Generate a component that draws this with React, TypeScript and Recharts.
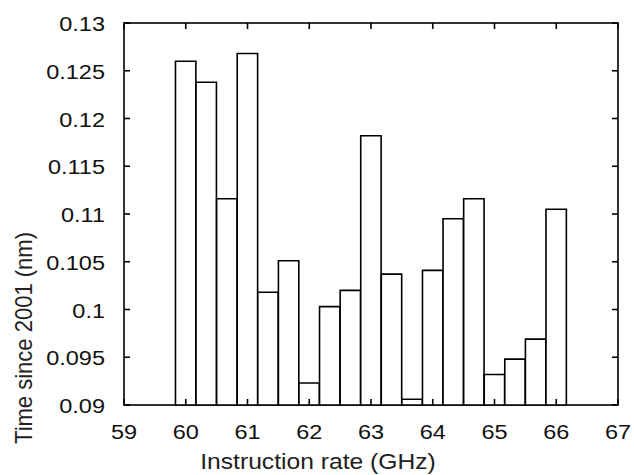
import * as Recharts from "recharts";
import { BarChart, Bar, XAxis, YAxis } from "recharts";

const rates = [
  60, 60.333, 60.667, 61, 61.333, 61.667, 62, 62.333, 62.667, 63, 63.333,
  63.667, 64, 64.333, 64.667, 65, 65.333, 65.667, 66,
];
const times = [
  0.126, 0.1238, 0.1116, 0.1268, 0.1018, 0.1051, 0.0923, 0.1003, 0.102,
  0.1182, 0.1037, 0.0906, 0.1041, 0.1095, 0.1116, 0.0932, 0.0948, 0.0969,
  0.1105,
];
const xTicks = [59, 60, 61, 62, 63, 64, 65, 66, 67];
const yTicks = [0.09, 0.095, 0.1, 0.105, 0.11, 0.115, 0.12, 0.125, 0.13];

const data = rates.map((rate, i) => ({ rate, time: times[i] }));

const W = 634;
const H = 475;
const margin = { top: 23, right: 16, bottom: 0, left: 0 };
const Y_AXIS_W = 124;
const X_AXIS_H = 70;
const PLOT_W = W - Y_AXIS_W - margin.right;
const PLOT_H = H - X_AXIS_H - margin.top;

const FONT = "'Liberation Sans', Arial, sans-serif";
const INK = "#111";
const TICK = 6;
const LW = 1.6;
const STRETCH = 1.12;

const usePlot: () => any =
  (Recharts as any).usePlotArea ?? (Recharts as any).useOffset ?? (() => null);

// box round the plot area
function Frame() {
  const area = usePlot();
  if (!area || area.width == null) return null;
  return (
    <rect
      x={area.x ?? area.left}
      y={area.y ?? area.top}
      width={area.width}
      height={area.height}
      fill="none"
      stroke="#000"
      strokeWidth={LW}
    />
  );
}

// bottom label + inward ticks at the bottom and mirrored at the top
function BottomTick({ x, y, payload }: any) {
  const top = y - PLOT_H;
  return (
    <g>
      <line x1={x} x2={x} y1={y} y2={y - TICK} stroke="#000" strokeWidth={LW} />
      <line x1={x} x2={x} y1={top} y2={top + TICK} stroke="#000" strokeWidth={LW} />
      <text
        transform={`translate(${x},${y + 34}) scale(${STRETCH},1)`}
        textAnchor="middle"
        fontFamily={FONT}
        fontSize={21}
        fill={INK}
      >
        {payload.value}
      </text>
    </g>
  );
}

function LeftTick({ x, y, payload }: any) {
  const right = x + PLOT_W;
  return (
    <g>
      <line x1={x} x2={x + TICK} y1={y} y2={y} stroke="#000" strokeWidth={LW} />
      <line x1={right} x2={right - TICK} y1={y} y2={y} stroke="#000" strokeWidth={LW} />
      <text
        transform={`translate(${x - 19},${y + 8}) scale(${STRETCH},1)`}
        textAnchor="end"
        fontFamily={FONT}
        fontSize={21}
        fill={INK}
      >
        {String(payload.value)}
      </text>
    </g>
  );
}

export default function App() {
  return (
    <div
      style={{
        position: "absolute",
        left: 0,
        top: 0,
        width: W,
        height: H,
        background: "#fff",
        fontFamily: FONT,
        color: "#222",
      }}
    >
      <BarChart width={W} height={H} data={data} margin={margin}>
        <XAxis
          dataKey="rate"
          type="number"
          domain={[xTicks[0], xTicks[xTicks.length - 1]]}
          ticks={xTicks}
          interval={0}
          height={X_AXIS_H}
          tickSize={0}
          tickMargin={0}
          tickLine={false}
          axisLine={false}
          tick={(p: any) => <BottomTick {...p} />}
        />
        <YAxis
          type="number"
          domain={[yTicks[0], yTicks[yTicks.length - 1]]}
          ticks={yTicks}
          interval={0}
          width={Y_AXIS_W}
          tickSize={0}
          tickMargin={0}
          tickLine={false}
          axisLine={false}
          tick={(p: any) => <LeftTick {...p} />}
        />
        <Bar
          dataKey="time"
          barSize={20.4}
          fill="#fff"
          stroke="#000"
          strokeWidth={LW}
          isAnimationActive={false}
        />
        <Frame />
      </BarChart>
      <div
        style={{
          position: "absolute",
          left: 318,
          top: 462,
          transform: `translate(-50%, -50%) scale(${STRETCH}, 1)`,
          fontSize: 22,
          lineHeight: 1,
          whiteSpace: "nowrap",
        }}
      >
        Instruction rate (GHz)
      </div>
      <div
        style={{
          position: "absolute",
          left: 24,
          top: 338,
          transform: `translate(-50%, -50%) rotate(-90deg) scale(1, ${STRETCH})`,
          fontSize: 22,
          lineHeight: 1,
          whiteSpace: "nowrap",
        }}
      >
        Time since 2001 (nm)
      </div>
    </div>
  );
}
